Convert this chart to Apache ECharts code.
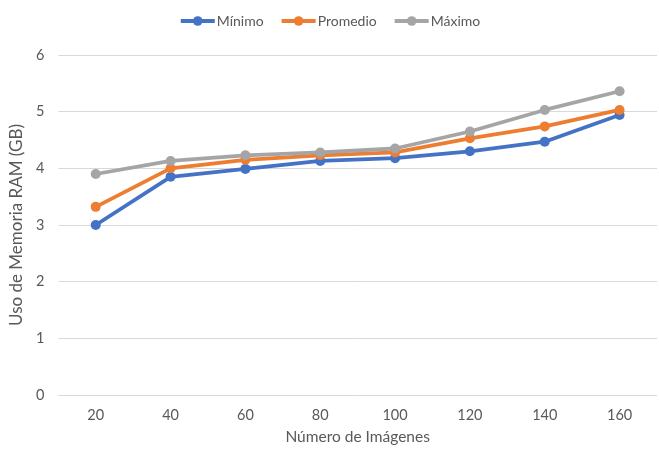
<!DOCTYPE html>
<html>
<head>
<meta charset="utf-8">
<script src="https://cdn.jsdelivr.net/npm/echarts@6/dist/echarts.min.js"></script>
<style>
  html, body { margin: 0; padding: 0; background: #fff; }
  #chart { width: 659px; height: 456px; }
</style>
</head>
<body>
<div id="chart"></div>
<script>
// Number of images processed
const categories = ['20', '40', '60', '80', '100', '120', '140', '160'];
// RAM usage (GB)
const minimo   = [3.00, 3.85, 3.99, 4.13, 4.18, 4.30, 4.47, 4.94];
const promedio = [3.32, 4.00, 4.15, 4.23, 4.28, 4.53, 4.74, 5.03];
const maximo   = [3.90, 4.13, 4.23, 4.28, 4.35, 4.65, 5.03, 5.36];

const font = 'Lato, "Open Sans", sans-serif';
const textColor = '#595959';

function lineSeries(name, data, color) {
  return {
    name: name,
    type: 'line',
    data: data,
    symbol: 'circle',
    symbolSize: 10,
    lineStyle: { width: 3.8, color: color },
    itemStyle: { color: color },
    z: 3
  };
}

const chart = echarts.init(document.getElementById('chart'), null, { renderer: 'canvas' });
chart.setOption({
  animation: false,
  color: ['#4472C4', '#ED7D31', '#A5A5A5'],
  legend: {
    top: 9,
    left: 'center',
    itemWidth: 34,
    itemHeight: 12,
    itemGap: 16,
    lineStyle: { width: 4 },
    textStyle: { fontFamily: font, fontSize: 14, color: textColor, padding: [0, 0, 0, -3] },
    data: ['Mínimo', 'Promedio', 'Máximo']
  },
  grid: { left: 53, right: 2, top: 55, bottom: 61, containLabel: false },
  xAxis: {
    type: 'category',
    data: categories,
    boundaryGap: true,
    name: 'Número de Imágenes',
    nameLocation: 'middle',
    nameGap: 34,
    nameTextStyle: { fontFamily: font, fontSize: 15.5, color: textColor },
    axisLine: { show: false },
    axisTick: { show: false },
    axisLabel: { fontFamily: font, fontSize: 14.5, color: textColor, margin: 13 }
  },
  yAxis: {
    type: 'value',
    min: 0,
    max: 6,
    interval: 1,
    name: 'Uso de Memoria RAM (GB)',
    nameLocation: 'middle',
    nameGap: 27,
    nameTextStyle: { fontFamily: font, fontSize: 17, color: textColor },
    axisLine: { show: false },
    axisTick: { show: false },
    axisLabel: { fontFamily: font, fontSize: 14.5, color: textColor, margin: 14 },
    splitLine: { lineStyle: { color: '#D9D9D9', width: 1 } }
  },
  series: [
    lineSeries('Mínimo', minimo, '#4472C4'),
    lineSeries('Promedio', promedio, '#ED7D31'),
    lineSeries('Máximo', maximo, '#A5A5A5')
  ]
});
</script>
</body>
</html>
